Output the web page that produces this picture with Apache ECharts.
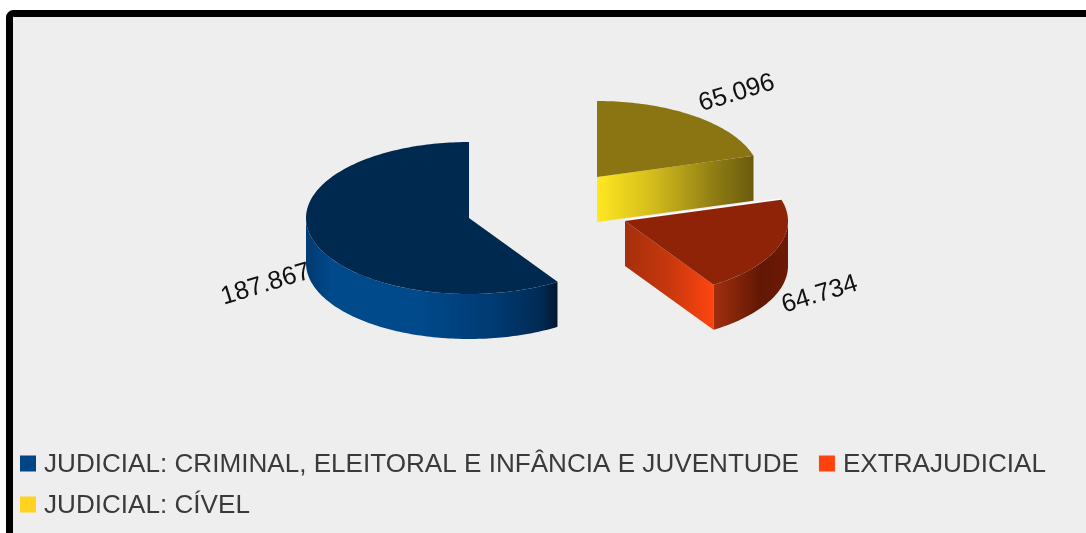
<!DOCTYPE html>
<html>
<head>
<meta charset="utf-8">
<style>
  html, body { margin: 0; padding: 0; background: #ffffff; }
  #chart { width: 1086px; height: 533px; }
</style>
<script src="https://cdn.jsdelivr.net/npm/echarts@6/dist/echarts.min.js"></script>
</head>
<body>
<div id="chart"></div>
<script>
// Slices, in the order they run counter-clockwise from twelve o'clock.
const categories = [
  'JUDICIAL: CRIMINAL, ELEITORAL E INFÂNCIA E JUVENTUDE',
  'EXTRAJUDICIAL',
  'JUDICIAL: CÍVEL'
];
const sliceValues = [187.867, 64.734, 65.096];
const legendColors = ['#004586', '#ff420e', '#ffd320'];

// Ellipse of the tilted disc and the thickness of the extruded wall.
const RX = 163, RY = 76, DEPTH = 45;
const FONT = '"Liberation Sans", Arial, sans-serif';
const LABEL_ANGLE = 17 * Math.PI / 180;

// Appearance of each slice: exploded centre, top colour, shaded sides, label placement.
const sliceLook = [
  {
    cx: 469, cy: 218, top: '#00294f',
    wall: [[0, '#003a70'], [0.1, '#00498b'], [0.45, '#00498b'], [0.75, '#003a72'], [0.93, '#002b55'], [1, '#001730']],
    face: null,
    labelDx: -47, labelDy: 45, backLight: false
  },
  {
    cx: 625, cy: 221, top: '#8e2307',
    wall: [[0, '#a02f0d'], [0.65, '#611704'], [1, '#6e1a05']],
    face: [[0, '#a52f0c'], [0.5, '#c8370d'], [1, '#ff4510']],
    labelDx: 42, labelDy: 47, backLight: true
  },
  {
    cx: 597, cy: 177, top: '#8a7512',
    wall: [[0, '#8a7512'], [1, '#6a5a0c']],
    face: [[0, '#ffe820'], [0.35, '#d4bd1c'], [0.75, '#8f7d14'], [1, '#6a5a0c']],
    labelDx: 42, labelDy: -23, backLight: false
  }
];

const total = sliceValues.reduce((a, b) => a + b, 0);

// Point on the ellipse rim, angle measured counter-clockwise from the top.
function rim(look, theta, drop) {
  return [look.cx - RX * Math.sin(theta), look.cy - RY * Math.cos(theta) + (drop || 0)];
}

function arcPoints(look, from, to, drop) {
  const steps = Math.max(2, Math.ceil(Math.abs(to - from) / 0.02));
  const pts = [];
  for (let i = 0; i <= steps; i++) {
    pts.push(rim(look, from + (to - from) * i / steps, drop));
  }
  return pts;
}

function shade(stops) {
  return new echarts.graphic.LinearGradient(0, 0, 1, 0,
    stops.map(s => ({ offset: s[0], color: s[1] })));
}

function renderSlice(index, api) {
  const value = api.value(0);
  const before = sliceValues.slice(0, index).reduce((a, b) => a + b, 0);
  const start = before / total * Math.PI * 2;
  const end = (before + value) / total * Math.PI * 2;
  const look = sliceLook[index];
  const centre = [look.cx, look.cy];
  const children = [];

  // Cut faces turned toward the viewer.
  [[start, -1], [end, 1]].forEach(([angle, side]) => {
    if (look.face && Math.sin(angle) * side > 1e-6) {
      const p = rim(look, angle);
      children.push({
        type: 'polygon',
        shape: { points: [centre, p, [p[0], p[1] + DEPTH], [centre[0], centre[1] + DEPTH]] },
        style: { fill: shade(look.face) }
      });
    }
  });

  // Curved wall on the front half of the disc.
  const wallFrom = Math.max(start, Math.PI / 2);
  const wallTo = Math.min(end, Math.PI * 1.5);
  if (wallTo > wallFrom) {
    const upper = arcPoints(look, wallFrom, wallTo, 0);
    const lower = arcPoints(look, wallTo, wallFrom, DEPTH);
    children.push({
      type: 'polygon',
      shape: { points: upper.concat(lower) },
      style: { fill: shade(look.wall) }
    });
  }

  // Pale highlight along the back edge of the slice.
  if (look.backLight) {
    const p = rim(look, end);
    children.push({
      type: 'line',
      shape: { x1: centre[0], y1: centre[1] - 1, x2: p[0], y2: p[1] - 1 },
      style: { stroke: '#ffffff', lineWidth: 1.2 }
    });
  }

  // Top of the slice.
  children.push({
    type: 'polygon',
    shape: { points: [centre].concat(arcPoints(look, start, end, 0)) },
    style: { fill: look.top }
  });

  // Value label beside the middle of the rim.
  const mid = rim(look, (start + end) / 2);
  children.push({
    type: 'text',
    x: mid[0] + look.labelDx,
    y: mid[1] + look.labelDy,
    rotation: LABEL_ANGLE,
    style: {
      text: value.toFixed(3),
      fill: '#111111',
      font: '25.5px ' + FONT,
      align: 'center',
      verticalAlign: 'middle'
    }
  });

  return { type: 'group', children };
}

// The key takes two rows, each laid out as its own legend.
function legendRow(names, top) {
  return {
    left: 20,
    top,
    padding: 0,
    itemWidth: 16,
    itemHeight: 16,
    itemGap: 20,
    icon: 'rect',
    selectedMode: false,
    formatter: '{t|{name}}',
    textStyle: {
      rich: {
        t: {
          fontFamily: FONT,
          fontSize: 26.1,
          color: '#3a3a3a',
          padding: [3, 0, 0, 3]
        }
      }
    },
    data: names.map(name => ({
      name,
      itemStyle: { color: legendColors[categories.indexOf(name)] }
    }))
  };
}

const chart = echarts.init(document.getElementById('chart'), null, { renderer: 'canvas' });

chart.setOption({
  animation: false,
  backgroundColor: '#ffffff',
  graphic: [{
    type: 'rect',
    z: -10,
    silent: true,
    shape: { x: 9.5, y: 13.5, width: 1300, height: 900, r: 4 },
    style: { fill: '#eeeeee', stroke: '#000000', lineWidth: 7 }
  }],
  legend: [
    legendRow(categories.slice(0, 2), 452),
    legendRow(categories.slice(2), 493)
  ],
  series: categories.map((name, i) => ({
    type: 'custom',
    name,
    coordinateSystem: 'none',
    itemStyle: { color: legendColors[i] },
    renderItem: (params, api) => renderSlice(i, api),
    data: [[sliceValues[i]]]
  }))
});
</script>
</body>
</html>
